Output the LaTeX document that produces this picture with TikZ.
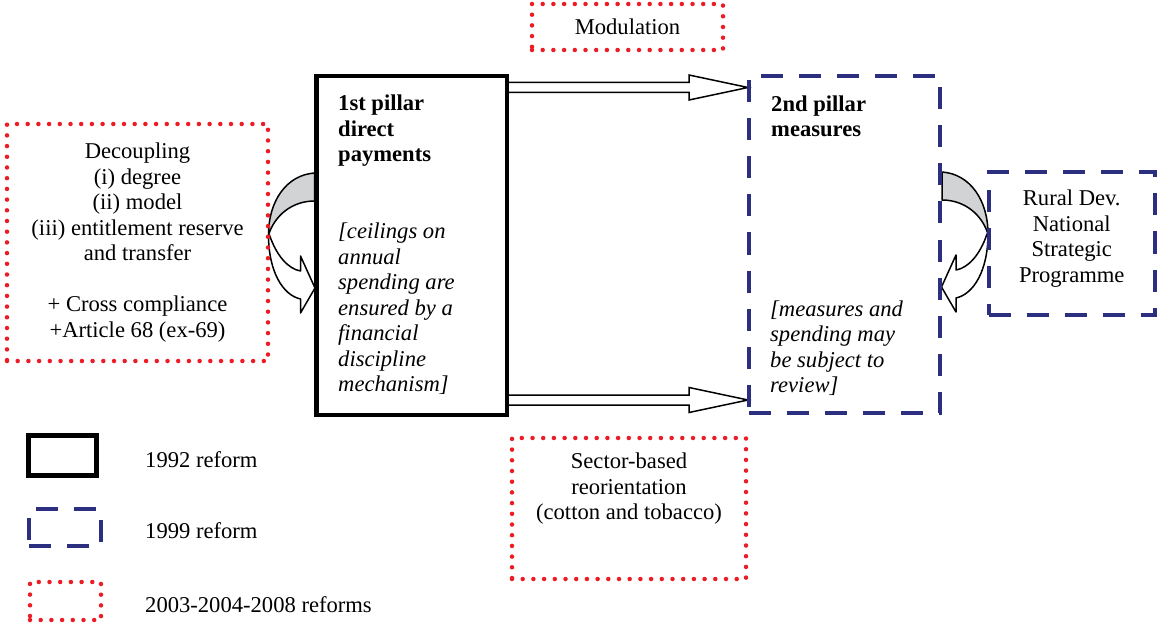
\documentclass[tikz,border=0pt]{standalone}
\usepackage{fontspec}
\setmainfont{Liberation Serif}
\usetikzlibrary{positioning,calc,backgrounds}

\definecolor{reformred}{RGB}{237,28,36}
\definecolor{reformblue}{RGB}{44,46,128}
\definecolor{bandgray}{RGB}{209,211,212}

\newcommand{\figfont}{\fontsize{22.6}{25.5}\selectfont}

% hollow block arrow between two points (same height as the first one)
\newcommand{\widearrow}[2]{%
  \draw[line width=1.5pt, fill=white, line join=miter] let \p1=(#1), \p2=(#2) in
    (\x1,\y1+5pt) -- (\x2-59pt,\y1+5pt) -- (\x2-59pt,\y1+12.5pt) -- (\x2,\y1)
    -- (\x2-59pt,\y1-12.5pt) -- (\x2-59pt,\y1-5pt) -- (\x1,\y1-5pt) -- cycle;}

% bent arrow leaving a box edge and coming back to it
\newcommand{\bentarrow}{%
  \draw[line width=1.5pt, fill=white, line join=round] (-47,-10.5) .. controls (-40,10.5) and (-28,23.5) .. (-16,25.5)
    -- (-16,10.5) -- (-1.5,42.5) -- (-16,67.5) -- (-16,53.5)
    .. controls (-34,49.5) and (-48,25.5) .. (-48,-10.5) -- cycle;
  \draw[line width=1.5pt, fill=bandgray, line join=round] (-2,-72.5) .. controls (-30,-70.5) and (-48,-44.5) .. (-48,-10.5)
    .. controls (-42,-29.5) and (-25,-44.5) .. (-2,-44.5) -- cycle;}

\begin{document}
\begin{tikzpicture}[x=1pt, y=-1pt, font=\figfont,
    oldbox/.style={draw=black, line width=4.5pt, outer sep=0pt, inner sep=0pt},
    midbox/.style={draw=reformblue, line width=4pt, dash pattern=on 22pt off 16pt, outer sep=0pt, inner sep=0pt},
    newbox/.style={draw=reformred, line width=4.5pt, line cap=round, dash pattern=on 0pt off 10.7pt, outer sep=0pt, inner sep=0pt},
    boxtext/.style={inner sep=0pt, align=left, anchor=north west}]
    \useasboundingbox (0,0) rectangle (1163,623);

    % Pillars
    \node[oldbox, minimum width=190.5pt, minimum height=339pt] (pillarI) at (411.75,245.5) {};
    \node[midbox, minimum width=191pt, minimum height=336pt] (pillarII) at (844.5,244.5) {};
    \node[boxtext, font=\figfont\bfseries] (headI) at ($(pillarI.north west)+(21.5,19)$) {1st pillar\\direct\\payments};
    \node[boxtext, font=\figfont\itshape] (noteI) at ($(pillarI.north west)+(21.5,147)$)
        {[ceilings on\\annual\\spending are\\ensured by a\\financial\\discipline\\mechanism]};
    \node[boxtext, font=\figfont\bfseries] (headII) at ($(pillarII.north west)+(22,19)$) {2nd pillar\\measures};
    \node[boxtext, font=\figfont\itshape] (noteII) at ($(pillarII.north west)+(21,224)$)
        {[measures and\\spending may\\be subject to\\review]};

    % Side boxes
    \node[newbox, minimum width=261pt, minimum height=237pt, align=center] (decoupling) at (137.5,242.5)
        {Decoupling\\(i) degree\\(ii) model\\(iii) entitlement reserve\\and transfer\\[25.5pt]+ Cross compliance\\+Article 68 (ex-69)};
    \node[newbox, minimum width=191pt, minimum height=46pt] (modulation) at (627.5,27) {Modulation};
    \node[newbox, minimum width=234pt, minimum height=141pt] (sector) at (629,508.5) {};
    \node[align=center, inner sep=0pt] (sectortxt) at ($(sector.center)+(0,-19.5)$) {Sector-based\\reorientation\\(cotton and tobacco)};
    \node[midbox, minimum width=166.5pt, minimum height=143pt] (rural) at (1071.75,243.5) {};
    \node[align=center, inner sep=0pt] (ruraltxt) at ($(rural.center)+(0,-5)$) {Rural Dev.\\National\\Strategic\\Programme};

    % Arrows behind the boxes
    \begin{pgfonlayer}{background}
        \widearrow{$(pillarI.north east)+(0,11.5)$}{$(pillarII.north west)+(-1,11.5)$}
        \widearrow{$(pillarI.south east)+(0,-15)$}{$(pillarII.south west)+(-1,-15)$}
        \begin{scope}[shift={(pillarI.west)}]
            \bentarrow
        \end{scope}
        \begin{scope}[shift={(pillarII.east)}, xscale=-1]
            \bentarrow
        \end{scope}
    \end{pgfonlayer}

    % Legend
    \node[oldbox, minimum width=68pt, minimum height=40pt] (leg92) at (62.5,455.5) {};
    \node[midbox, minimum width=72pt, minimum height=37pt] (leg99) at (65,527.5) {};
    \node[newbox, minimum width=71pt, minimum height=38pt] (leg03) at (65.5,601) {};
    \node[anchor=base west, inner sep=0pt] (lab92) at (145,467) {1992 reform};
    \node[anchor=base west, inner sep=0pt] (lab99) at (145,538) {1999 reform};
    \node[anchor=base west, inner sep=0pt] (lab03) at (145,612) {2003-2004-2008 reforms};
\end{tikzpicture}
\end{document}
